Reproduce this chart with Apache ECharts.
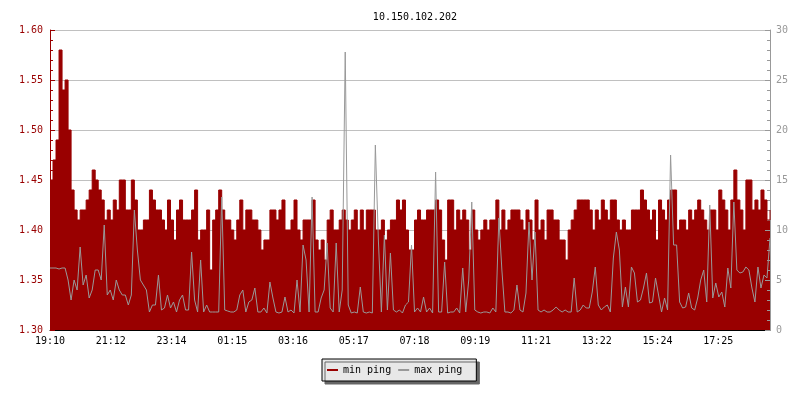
<!DOCTYPE html>
<html>
<head>
<meta charset="utf-8">
<title>10.150.102.202</title>
<script src="https://cdn.jsdelivr.net/npm/echarts@6/dist/echarts.min.js"></script>
<style>
  html, body { margin: 0; padding: 0; background: #fff; }
  #myChart { width: 800px; height: 400px; }
</style>
</head>
<body>
<div id="myChart"></div>
<script>
// one sample every 6 minutes, starting 19:10
let stepMinutes = 6;
let tickLabels = ["19:10", "21:12", "23:14", "01:15", "03:16", "05:17", "07:18", "09:19", "11:21", "13:22", "15:24", "17:25"];

// min ping (left axis)
let minPing = [
  1.45,1.47,1.49,1.58,1.54,1.55,1.50,1.44,1.42,1.41,
  1.42,1.42,1.43,1.44,1.46,1.45,1.44,1.43,1.41,1.42,
  1.41,1.43,1.42,1.45,1.45,1.42,1.42,1.45,1.43,1.40,
  1.40,1.41,1.41,1.44,1.43,1.42,1.42,1.41,1.40,1.43,

  1.41,1.39,1.42,1.43,1.41,1.41,1.41,1.42,1.44,1.39,
  1.40,1.40,1.42,1.36,1.41,1.42,1.44,1.42,1.41,1.41,
  1.40,1.39,1.41,1.43,1.40,1.42,1.42,1.41,1.41,1.40,
  1.38,1.39,1.39,1.42,1.42,1.41,1.42,1.43,1.40,1.40,

  1.41,1.43,1.40,1.39,1.41,1.41,1.41,1.43,1.39,1.38,
  1.39,1.37,1.41,1.42,1.40,1.40,1.41,1.42,1.41,1.40,
  1.41,1.42,1.40,1.42,1.40,1.42,1.42,1.42,1.40,1.40,
  1.41,1.39,1.40,1.41,1.41,1.43,1.42,1.43,1.40,1.38,

  1.38,1.41,1.42,1.41,1.41,1.42,1.42,1.42,1.43,1.42,
  1.39,1.37,1.43,1.43,1.40,1.42,1.41,1.42,1.41,1.38,
  1.42,1.40,1.39,1.40,1.41,1.40,1.41,1.41,1.43,1.40,
  1.42,1.40,1.41,1.42,1.42,1.42,1.41,1.40,1.42,1.41,

  1.39,1.43,1.40,1.41,1.39,1.42,1.42,1.41,1.41,1.39,
  1.39,1.37,1.40,1.41,1.42,1.43,1.43,1.43,1.43,1.42,
  1.40,1.42,1.41,1.43,1.42,1.41,1.43,1.43,1.41,1.40,
  1.41,1.40,1.40,1.42,1.42,1.42,1.44,1.43,1.42,1.41,

  1.42,1.39,1.43,1.42,1.41,1.43,1.44,1.44,1.40,1.41,
  1.41,1.40,1.42,1.41,1.42,1.43,1.42,1.41,1.40,1.42,
  1.42,1.40,1.44,1.43,1.42,1.40,1.43,1.46,1.43,1.42,
  1.40,1.45,1.45,1.42,1.43,1.42,1.44,1.43,1.41,1.42
];

// max ping (right axis)
let maxPing = [
  6.2,6.2,6.2,6.1,6.2,6.2,5.0,3.0,5.0,4.0,
  8.3,4.5,5.5,3.2,4.0,6.0,6.0,5.0,10.5,3.5,
  4.0,3.0,5.0,4.0,3.5,3.5,2.5,3.5,12.0,8.0,
  5.0,4.5,4.0,1.8,2.5,2.5,5.5,2.0,2.2,3.5,

  2.2,2.8,1.8,3.0,3.5,2.0,2.0,7.8,3.0,1.8,
  7.0,1.8,2.5,1.8,1.8,1.8,1.8,13.3,2.0,1.9,
  1.8,1.8,2.0,3.5,4.0,1.8,2.8,3.0,4.2,1.8,
  1.8,2.2,1.7,4.8,3.2,1.8,1.7,1.8,3.3,1.8,

  2.0,1.7,5.0,1.8,8.5,7.0,1.8,13.3,1.8,1.8,
  3.2,4.0,8.7,2.2,1.8,8.7,1.8,4.0,27.8,2.5,
  1.7,1.8,1.7,4.3,1.8,1.7,1.8,1.7,18.5,9.0,
  1.8,9.5,2.0,7.7,2.0,1.8,2.0,1.7,2.5,2.8,

  8.5,1.8,2.2,1.8,3.3,1.8,2.2,1.7,15.8,1.8,
  1.8,6.8,1.7,1.8,1.8,2.2,1.7,6.2,1.8,5.0,
  12.8,2.0,1.8,1.7,1.8,1.8,1.7,2.2,1.8,11.2,
  6.0,1.8,1.8,1.7,2.0,4.5,2.0,1.8,3.7,10.8,

  5.0,9.8,2.0,1.8,2.0,1.8,1.8,2.0,2.3,2.0,
  1.8,2.0,1.8,1.8,5.2,1.8,2.0,2.5,2.2,2.2,
  3.8,6.3,2.5,2.0,2.3,2.5,1.8,7.2,9.8,8.0,
  2.3,4.3,2.3,6.3,5.7,2.8,3.0,4.2,5.7,2.7,

  2.8,5.2,3.5,1.8,3.2,2.0,17.5,8.5,8.5,2.8,
  2.2,2.3,3.7,2.2,2.0,3.2,5.0,6.0,2.8,12.5,
  3.2,4.7,3.3,3.8,2.3,6.2,4.2,12.8,6.0,5.7,
  5.8,6.3,6.0,4.2,2.8,6.3,4.2,5.5,5.2,9.2
];

let mono = "DejaVu Sans Mono";
let darkRed = "#990000";
let gray = "#999999";

let minData = minPing.map((v, i) => [i * stepMinutes, v]);
let maxData = maxPing.map((v, i) => [i * stepMinutes, v]);
let lastX = (minPing.length - 1) * stepMinutes;

let myChart = echarts.init(document.getElementById("myChart"), null, { renderer: "canvas" });
let option = {
  animation: false,
  backgroundColor: "#ffffff",
  title: {
    text: "10.150.102.202",
    left: 410,
    top: 7,
    textAlign: "center",
    textStyle: { fontFamily: mono, fontSize: 10, fontWeight: "normal", color: "#000" }
  },
  legend: {
    left: 322,
    top: 359,
    orient: "horizontal",
    padding: [6, 14, 6, 5],
    itemGap: 7,
    itemWidth: 11,
    itemHeight: 2,
    backgroundColor: "#e8e8e8",
    borderColor: "#000",
    borderWidth: 1,
    borderRadius: 0,
    shadowColor: "#666666",
    shadowBlur: 0,
    shadowOffsetX: 3,
    shadowOffsetY: 3,
    textStyle: { fontFamily: mono, fontSize: 10, color: "#000" },
    data: [
      { name: "min ping", icon: "rect", itemStyle: { color: darkRed } },
      { name: "max ping", icon: "rect", itemStyle: { color: gray } }
    ]
  },
  grid: { left: 50, right: 30, top: 30, bottom: 70, containLabel: false },
  xAxis: {
    type: "value",
    min: 0,
    max: lastX,
    interval: 121,
    axisLine: { lineStyle: { color: "#000", width: 1 } },
    axisTick: { inside: true, length: 4, lineStyle: { color: "#000" } },
    splitLine: { show: false },
    axisLabel: {
      margin: 6,
      fontFamily: mono,
      fontSize: 10,
      color: "#000",
      formatter: (v, i) => tickLabels[i] || ""
    }
  },
  yAxis: [
    {
      type: "value",
      position: "left",
      min: 1.3,
      max: 1.6,
      interval: 0.05,
      axisLine: { show: true, lineStyle: { color: darkRed } },
      axisTick: { show: true, inside: true, length: 5, lineStyle: { color: darkRed } },
      minorTick: { show: true, splitNumber: 5, length: 3, lineStyle: { color: darkRed } },
      splitLine: { show: true, lineStyle: { color: "#c0c0c0", width: 1 } },
      axisLabel: {
        margin: 7,
        fontFamily: mono,
        fontSize: 10,
        color: darkRed,
        formatter: v => v.toFixed(2)
      }
    },
    {
      type: "value",
      position: "right",
      min: 0,
      max: 30,
      interval: 5,
      z: 3,
      axisLine: { show: true, lineStyle: { color: gray } },
      axisTick: { show: true, inside: true, length: 5, lineStyle: { color: gray } },
      minorTick: { show: true, splitNumber: 5, length: 3, lineStyle: { color: gray } },
      splitLine: { show: false },
      axisLabel: { margin: 6, fontFamily: mono, fontSize: 10, color: gray }
    }
  ],
  series: [
    {
      name: "min ping",
      type: "line",
      yAxisIndex: 0,
      step: "end",
      showSymbol: false,
      symbol: "none",
      lineStyle: { color: darkRed, width: 1 },
      itemStyle: { color: darkRed },
      areaStyle: { color: darkRed, opacity: 1 },
      data: minData
    },
    {
      name: "max ping",
      type: "line",
      yAxisIndex: 1,
      showSymbol: false,
      symbol: "none",
      lineStyle: { color: gray, width: 1 },
      itemStyle: { color: gray },
      data: maxData
    }
  ]
};
myChart.setOption(option);
</script>
</body>
</html>
